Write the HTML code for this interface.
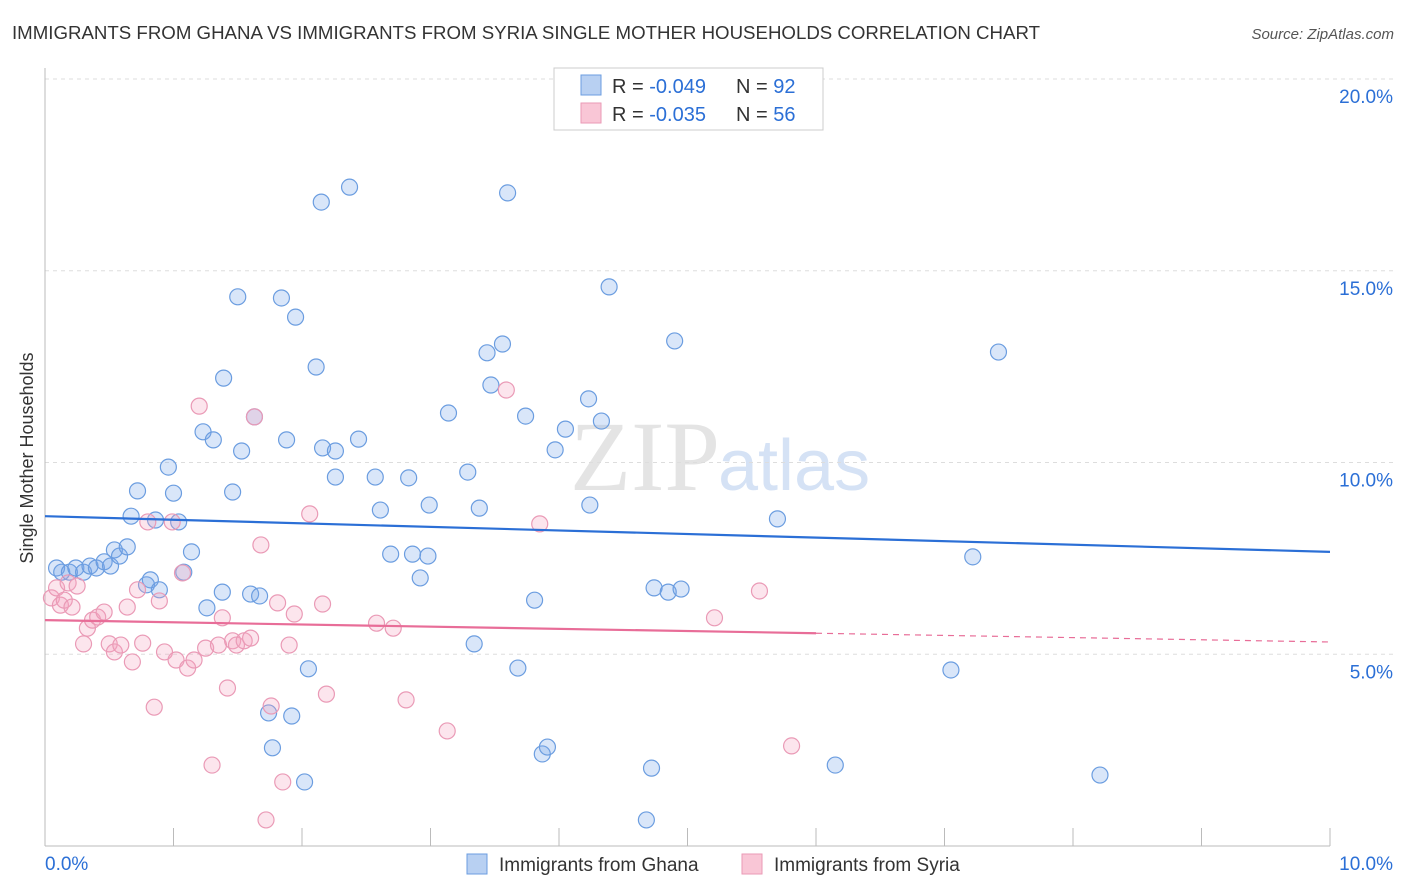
<!DOCTYPE html>
<html><head><meta charset="utf-8"><style>
body{margin:0;background:#fff;font-family:"Liberation Sans",sans-serif;}
#wrap{position:relative;width:1406px;height:892px;overflow:hidden;}
</style></head><body><div id="wrap">
<svg id="svg" width="1406" height="892" xmlns="http://www.w3.org/2000/svg">
<text x="12" y="39" font-size="18" fill="#333" textLength="1028" lengthAdjust="spacingAndGlyphs">IMMIGRANTS FROM GHANA VS IMMIGRANTS FROM SYRIA SINGLE MOTHER HOUSEHOLDS CORRELATION CHART</text>
<text x="1394" y="39" font-size="15" fill="#555" text-anchor="end" font-style="italic">Source: ZipAtlas.com</text>
<text x="33" y="458" font-size="18" fill="#333" text-anchor="middle" transform="rotate(-90 33 458)">Single Mother Households</text>
<text x="720" y="490" font-size="100" fill="#e4e4e4" text-anchor="end" font-family="Liberation Serif,serif">ZIP</text>
<text x="718" y="490" font-size="72" fill="#d5e2f5">atlas</text>
<g id="grid"></g><g id="axes"></g><g id="pts"></g><g id="lines"></g>
<g>
<rect x="554" y="68" width="269" height="62" fill="#fff" stroke="#ccc"/>
<rect x="581" y="75" width="20" height="20" fill="#b8d0f2" stroke="#6b9de0"/>
<rect x="581" y="103" width="20" height="20" fill="#f9c6d6" stroke="#ea9ab6"/>
<text x="612" y="93" font-size="20" fill="#333">R =  <tspan fill="#2b6fd6">-0.049</tspan></text>
<text x="736" y="93" font-size="20" fill="#333">N =  <tspan fill="#2b6fd6">92</tspan></text>
<text x="612" y="121" font-size="20" fill="#333">R =  <tspan fill="#2b6fd6">-0.035</tspan></text>
<text x="736" y="121" font-size="20" fill="#333">N =  <tspan fill="#2b6fd6">56</tspan></text>
</g>
<g>
<rect x="467" y="854" width="20" height="20" fill="#b8d0f2" stroke="#6b9de0"/>
<text x="499" y="871" font-size="19" fill="#333">Immigrants from Ghana</text>
<rect x="742" y="854" width="20" height="20" fill="#f9c6d6" stroke="#ea9ab6"/>
<text x="774" y="871" font-size="19" fill="#333">Immigrants from Syria</text>
</g>
</svg></div>
<script>
const ghanaX=[0.09,0.13,0.19,0.24,0.30,0.35,0.40,0.46,0.51,0.54,0.58,0.64,0.67,0.72,0.79,0.82,0.86,0.89,0.96,1.00,1.04,1.08,1.14,1.23,1.26,1.31,1.38,1.39,1.46,1.50,1.53,1.60,1.63,1.67,1.74,1.77,1.84,1.88,1.92,1.95,2.02,2.05,2.11,2.15,2.16,2.26,2.26,2.37,2.44,2.57,2.61,2.69,2.83,2.86,2.92,2.98,2.99,3.14,3.29,3.34,3.38,3.44,3.47,3.56,3.60,3.68,3.74,3.81,3.87,3.91,3.97,4.05,4.23,4.24,4.33,4.39,4.68,4.72,4.74,4.85,4.90,4.95,5.70,6.15,7.05,7.22,7.42,8.21];
const ghanaY=[7.25,7.14,7.14,7.25,7.14,7.30,7.25,7.41,7.30,7.72,7.56,7.80,8.60,9.26,6.81,6.94,8.50,6.68,9.88,9.20,8.45,7.14,7.67,10.80,6.21,10.59,6.62,12.20,9.23,14.32,10.30,6.57,11.19,6.52,3.47,2.56,14.29,10.59,3.39,13.79,1.67,4.62,12.49,16.79,10.38,9.62,10.30,17.18,10.61,9.62,8.76,7.61,9.60,7.61,6.99,7.56,8.89,11.29,9.75,5.27,8.81,12.86,12.02,13.09,17.03,4.64,11.21,6.41,2.40,2.58,10.33,10.87,11.66,8.89,11.08,14.58,0.68,2.03,6.73,6.62,13.17,6.70,8.53,2.11,4.59,7.54,12.88,1.85];
const syriaX=[0.05,0.09,0.12,0.15,0.18,0.21,0.25,0.30,0.33,0.37,0.41,0.46,0.50,0.54,0.59,0.64,0.68,0.72,0.76,0.80,0.85,0.89,0.93,0.99,1.02,1.07,1.11,1.16,1.20,1.25,1.30,1.35,1.38,1.42,1.46,1.49,1.55,1.60,1.63,1.68,1.72,1.76,1.81,1.85,1.90,1.94,2.06,2.16,2.19,2.58,2.71,2.81,3.13,3.59,3.85,5.21,5.56,5.81];
const syriaY=[6.47,6.73,6.28,6.41,6.86,6.23,6.78,5.27,5.68,5.89,5.97,6.10,5.27,5.06,5.24,6.23,4.80,6.68,5.29,8.45,3.62,6.39,5.06,8.45,4.85,7.12,4.64,4.85,11.47,5.16,2.11,5.24,5.95,4.12,5.35,5.24,5.35,5.42,11.19,7.85,0.68,3.65,6.34,1.67,5.24,6.05,8.66,6.31,3.96,5.81,5.68,3.81,3.00,11.89,8.40,5.95,6.65,2.61];
const yTicks=[5,10,15,20];
const yTickLabels=["5.0%","10.0%","15.0%","20.0%"];
const ghanaTrend=[8.6,7.67];
const syriaTrend=[5.89,5.32];
const syriaSolidEnd=6.0;

const NS="http://www.w3.org/2000/svg";
const X0=45,X1=1330,Y0=846,PY=38.35;
const sx=v=>X0+(X1-X0)*v/10;
const sy=v=>Y0-PY*v;
function mk(tag,attrs,parent){const e=document.createElementNS(NS,tag);for(const k in attrs)e.setAttribute(k,attrs[k]);document.getElementById(parent).appendChild(e);return e;}
yTicks.forEach((t,i)=>{
 const l=mk('line',{x1:X0,x2:1394,y1:sy(t),y2:sy(t),stroke:'#ddd','stroke-dasharray':'4,4'},'grid');
 
 
 const tx=mk('text',{x:1393,y:sy(t)+24,'font-size':19,fill:'#2b6fd6','text-anchor':'end'},'grid');
 tx.textContent=yTickLabels[i];
 
 
});
const tl=mk('line',{x1:X0,x2:1394,y1:79,y2:79,stroke:'#ddd','stroke-dasharray':'4,4'},'grid');


const ax=mk('line',{x1:X0,x2:X1,y1:Y0,y2:Y0,stroke:'#bbb'},'axes');


const ay=mk('line',{x1:X0,x2:X0,y1:68,y2:Y0,stroke:'#bbb'},'axes');


for(let i=1;i<=10;i++){const t=mk('line',{x1:sx(i),x2:sx(i),y1:828,y2:Y0,stroke:'#bbb'},'axes');
 
 }
const xl0=mk('text',{x:45,y:870,'font-size':19,fill:'#2b6fd6'},'axes');xl0.textContent='0.0%';


const xl1=mk('text',{x:1393,y:870,'font-size':19,fill:'#2b6fd6','text-anchor':'end'},'axes');xl1.textContent='10.0%';


ghanaX.forEach((x,i)=>{const c=mk('circle',{cx:sx(x),cy:sy(ghanaY[i]),r:8,fill:'rgba(120,165,235,0.28)',stroke:'#6b9de0','stroke-width':1.2},'pts');
 
 });
syriaX.forEach((x,i)=>{const c=mk('circle',{cx:sx(x),cy:sy(syriaY[i]),r:8,fill:'rgba(245,160,190,0.28)',stroke:'#ea9ab6','stroke-width':1.2},'pts');
 
 });
const g=mk('line',{x1:sx(0),x2:sx(10),y1:sy(ghanaTrend[0]),y2:sy(ghanaTrend[1]),stroke:'#2b6fd6','stroke-width':2.2},'lines');


const sm=syriaTrend[0]+(syriaTrend[1]-syriaTrend[0])*syriaSolidEnd/10;
const s1=mk('line',{x1:sx(0),x2:sx(syriaSolidEnd),y1:sy(syriaTrend[0]),y2:sy(sm),stroke:'#e86d98','stroke-width':2.2},'lines');


const s2=mk('line',{x1:sx(syriaSolidEnd),x2:sx(10),y1:sy(sm),y2:sy(syriaTrend[1]),stroke:'#e86d98','stroke-width':1.2,'stroke-dasharray':'6,5'},'lines');


</script></body></html>
